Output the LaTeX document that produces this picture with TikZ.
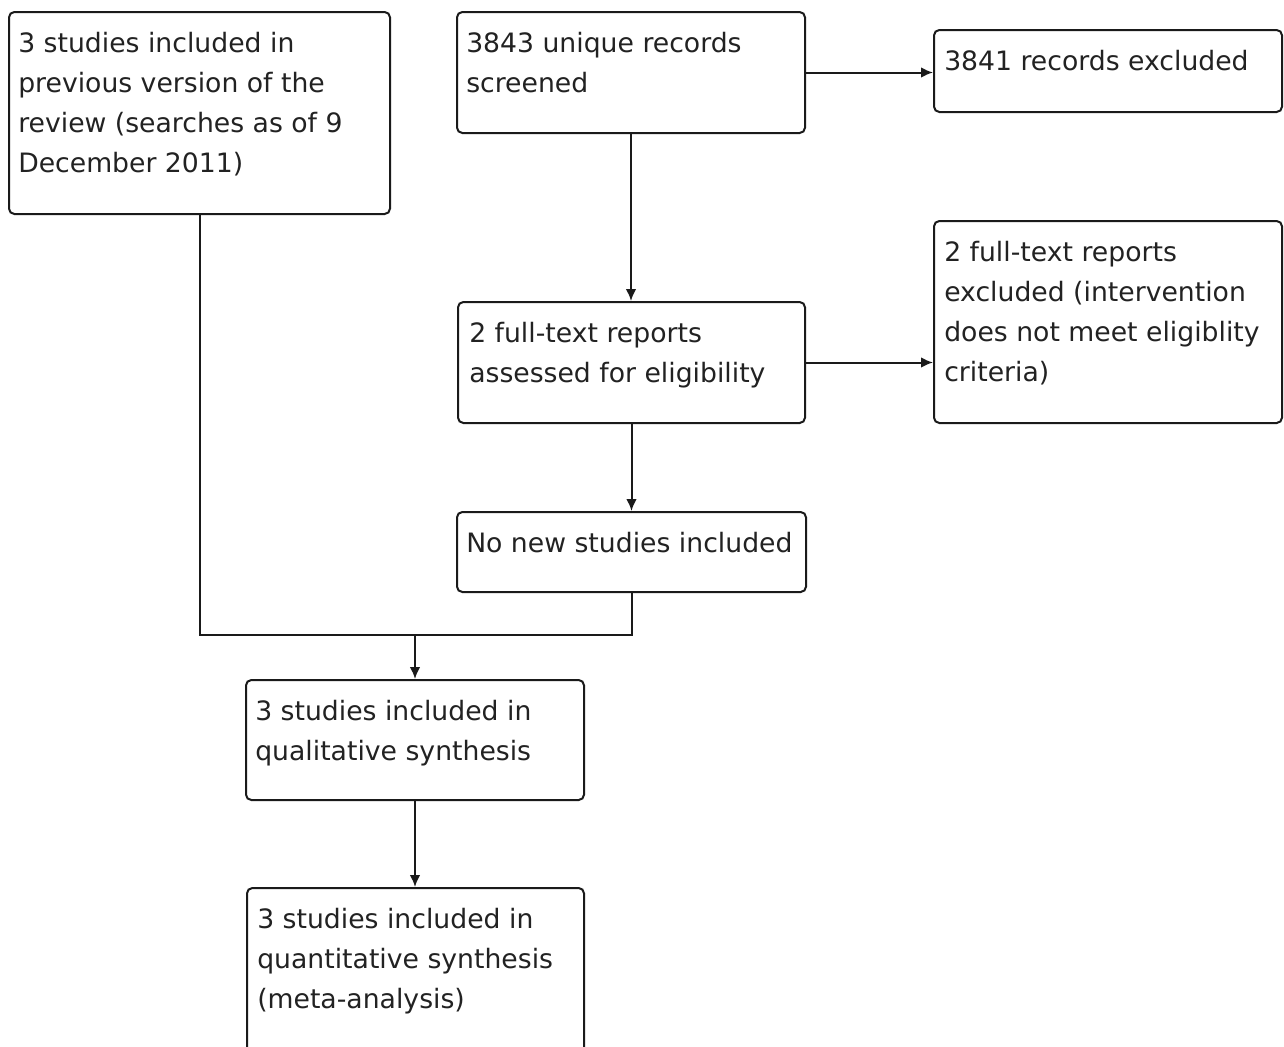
\documentclass[tikz,border=0pt]{standalone}
\usepackage{fontspec}
\setmainfont{DejaVu Sans}
\usetikzlibrary{arrows.meta,fit,calc}
\definecolor{ln}{HTML}{1A1A1A}
\definecolor{tx}{HTML}{222222}
\newcommand\fstrut{\rule{0pt}{16pt}}
\tikzset{
  box/.style={draw=ln, line width=1.5pt, rounded corners=4pt, inner sep=0pt, fill=white},
  txt/.style={anchor=north west, inner sep=0pt, align=left, text=tx, font=\fontsize{20pt}{30pt}\selectfont},
  conn/.style={draw=ln, line width=1.5pt},
  arr/.style={conn, -{Latex[length=9pt,width=8pt]}}
}
\begin{document}
\begin{tikzpicture}[x=0.75pt,y=-0.75pt]
\useasboundingbox (0,0) rectangle (1284,1046);
\clip (0,0) rectangle (1284,1046);
\node[box, fit={(9,12)(390,214)}] (a) {};
\node[box, fit={(457,12)(805,133)}] (b) {};
\node[box, fit={(934,30)(1282,112)}] (c) {};
\node[box, fit={(458,302)(805,423)}] (d) {};
\node[box, fit={(934,221)(1282,423)}] (e) {};
\node[box, fit={(457,512)(806,592)}] (f) {};
\node[box, fit={(246,680)(584,800)}] (g) {};
\node[box, fit={(247,888)(584,1075)}] (h) {};

\node[txt] (ta) at ($(a.north west)+(10,19.7)$) {\fstrut 3 studies included in\\previous version of the\\review (searches as of 9\\December 2011)};
\node[txt] (tb) at ($(b.north west)+(10,19.7)$) {\fstrut 3843 unique records\\screened};
\node[txt] (tc) at ($(c.north west)+(11,19.7)$) {\fstrut 3841 records excluded};
\node[txt] (td) at ($(d.north west)+(12,19.7)$) {\fstrut 2 full-text reports\\assessed for eligibility};
\node[txt] (te) at ($(e.north west)+(11,19.7)$) {\fstrut 2 full-text reports\\excluded (intervention\\does not meet eligiblity\\criteria)};
\node[txt] (tf) at ($(f.north west)+(10,19.7)$) {\fstrut No new studies included};
\node[txt] (tg) at ($(g.north west)+(10,19.7)$) {\fstrut 3 studies included in\\qualitative synthesis};
\node[txt] (th) at ($(h.north west)+(11,19.7)$) {\fstrut 3 studies included in\\quantitative synthesis\\(meta-analysis)};

\coordinate (j) at ($(g.north)+(0,-44)$);
\draw[arr] (b.east) -- (b.east -| c.west);
\draw[arr] (b.south) -- (b.south |- d.north);
\draw[arr] (d.east) -- (d.east -| e.west);
\draw[arr] (d.south) -- (d.south |- f.north);
\draw[conn] (a.south) |- (j);
\draw[conn] (f.south) |- (j);
\draw[arr] (j) -- (g.north);
\draw[arr] (g.south) -- (g.south |- h.north);
\end{tikzpicture}
\end{document}
